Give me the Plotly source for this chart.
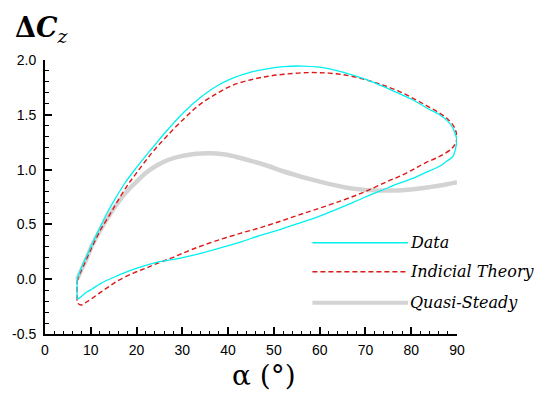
import plotly.graph_objects as go

# Measured loop (pitch-up branch, then pitch-down branch)
data_up_alpha = [7.0, 8.0, 9.2, 10.5, 12.1, 13.5, 15.0, 17.5, 20.0, 23.3, 26.5, 30.5, 34.0,
                 37.8, 41.0, 45.0, 48.5, 52.2, 56.0, 60.0, 65.0, 69.6, 73.2, 77.0, 80.4,
                 83.5, 86.2, 88.0, 89.1, 90.0]
data_up_cz = [0.00, 0.11, 0.22, 0.34, 0.48, 0.60, 0.71, 0.88, 1.02, 1.19, 1.35, 1.53, 1.66,
              1.77, 1.835, 1.89, 1.92, 1.94, 1.945, 1.935, 1.89, 1.83, 1.77, 1.70, 1.635,
              1.56, 1.50, 1.44, 1.38, 1.27]
data_dn_alpha = [90.0, 89.1, 87.5, 86.2, 83.0, 80.4, 77.0, 74.7, 70.0, 65.0, 58.7, 55.0,
                 51.5, 47.0, 42.8, 37.0, 32.0, 28.0, 24.0, 19.3, 15.7, 12.1, 10.3, 9.2,
                 8.0, 7.2, 7.0]
data_dn_cz = [1.27, 1.12, 1.07, 1.03, 0.97, 0.92, 0.87, 0.83, 0.75, 0.66, 0.555, 0.505,
              0.455, 0.40, 0.34, 0.27, 0.215, 0.18, 0.15, 0.09, 0.03, -0.04, -0.09, -0.115,
              -0.155, -0.18, -0.18]

# Indicial theory prediction
ind_up_alpha = [7.0, 7.5, 8.5, 10.0, 12.0, 14.3, 15.7, 17.9, 20.0, 23.3, 26.5, 30.5, 34.0,
                37.8, 41.0, 45.0, 48.5, 52.2, 57.3, 62.0, 66.0, 70.0, 73.2, 77.0, 80.4,
                83.5, 86.2, 88.0, 89.5, 90.0]
ind_up_cz = [-0.02, 0.04, 0.13, 0.27, 0.44, 0.60, 0.70, 0.85, 0.97, 1.15, 1.30, 1.47, 1.60,
             1.70, 1.77, 1.82, 1.85, 1.87, 1.885, 1.88, 1.86, 1.82, 1.78, 1.72, 1.65,
             1.58, 1.515, 1.46, 1.38, 1.30]
ind_dn_alpha = [90.0, 89.7, 88.8, 86.2, 83.0, 80.4, 77.5, 74.7, 70.0, 65.0, 58.7, 55.0,
                51.5, 47.0, 42.8, 37.0, 32.0, 28.0, 24.0, 22.0, 19.3, 15.7, 13.9, 12.1,
                10.3, 9.0, 8.0, 7.2, 7.0]
ind_dn_cz = [1.30, 1.24, 1.19, 1.12, 1.06, 1.00, 0.94, 0.89, 0.80, 0.72, 0.63, 0.58,
             0.53, 0.47, 0.42, 0.345, 0.27, 0.20, 0.135, 0.10, 0.055, -0.02, -0.07, -0.12,
             -0.175, -0.21, -0.235, -0.22, -0.19]

# Quasi-steady prediction
qs_alpha = [7.0, 8.0, 9.0, 10.3, 12.1, 14.3, 16.3, 18.3, 20.0, 22.0, 24.5, 27.0, 30.0,
            33.0, 36.0, 39.0, 41.4, 45.0, 48.6, 52.0, 57.3, 62.0, 66.0, 70.0,
            73.2, 77.0, 80.4, 84.0, 87.0, 90.0]
qs_cz = [0.0, 0.09, 0.18, 0.31, 0.45, 0.60, 0.72, 0.82, 0.89, 0.97, 1.04, 1.09, 1.125,
         1.145, 1.15, 1.14, 1.12, 1.08, 1.035, 0.985, 0.92, 0.87, 0.835, 0.815,
         0.81, 0.81, 0.82, 0.84, 0.86, 0.885]

x_ticks = [0, 10, 20, 30, 40, 50, 60, 70, 80, 90]
y_ticks = [-0.5, 0.0, 0.5, 1.0, 1.5, 2.0]
y_tick_text = ["-0.5", "0.0", "0.5", "1.0", "1.5", "2.0"]

legend_names = ["Data", "Indicial Theory", "Quasi-Steady"]

SERIF = "DejaVu Serif"
SANS = "Arial"

CYAN = "rgb(0,240,240)"
RED = "rgb(220,25,25)"
GREY = "rgb(211,211,211)"

fig = go.Figure()

def add(x, y, color, width, dash="solid", shape="spline"):
    fig.add_trace(go.Scatter(x=x, y=y, mode="lines", showlegend=False, hoverinfo="skip",
                             line=dict(color=color, width=width, dash=dash,
                                       shape=shape, smoothing=1.0)))

add(qs_alpha, qs_cz, GREY, 4.5)

add(ind_up_alpha, ind_up_cz, RED, 1.4, "5px,3px")
add(ind_dn_alpha, ind_dn_cz, RED, 1.4, "5px,3px")
add([ind_dn_alpha[-1], ind_up_alpha[0]], [ind_dn_cz[-1], ind_up_cz[0]], RED, 1.4, "5px,3px", "linear")

add(data_up_alpha, data_up_cz, CYAN, 1.3)
add(data_dn_alpha, data_dn_cz, CYAN, 1.3)
add([data_dn_alpha[-1], data_up_alpha[0]], [data_dn_cz[-1], data_up_cz[0]], CYAN, 1.3, "solid", "linear")

# Hand-placed legend with long sample lines
styles = [(CYAN, 1.3, "solid"), (RED, 1.4, "5px,3px"), (GREY, 4.0, "solid")]
legend_y = [0.333, 0.227, 0.114]
shapes = []
annotations = []
for name, (c, w, d), ly in zip(legend_names, styles, legend_y):
    shapes.append(dict(type="line", xref="paper", yref="paper", x0=0.649, x1=0.881,
                       y0=ly, y1=ly, line=dict(color=c, width=w, dash=d)))
    annotations.append(dict(xref="paper", yref="paper", x=0.882, y=ly, xanchor="left",
                            yanchor="middle", showarrow=False, text=f"<i>{name}</i>",
                            font=dict(family=SERIF, size=16, color="black")))

annotations.append(dict(xref="paper", yref="paper", x=-0.078, y=1.11, xanchor="left",
                        yanchor="middle", showarrow=False,
                        text="<b>Δ<i>C</i></b><sub><i>z</i></sub>",
                        font=dict(family=SERIF, size=27, color="black")))
annotations.append(dict(xref="paper", yref="paper", x=0.531, y=-0.15, xanchor="center",
                        yanchor="middle", showarrow=False, text="α (°)",
                        font=dict(family=SERIF, size=28, color="black")))

fig.update_layout(
    width=541, height=394,
    margin=dict(l=42.5, r=83.5, t=60, b=60),
    paper_bgcolor="white", plot_bgcolor="white",
    font=dict(family=SANS),
    shapes=shapes, annotations=annotations,
    xaxis=dict(range=[0, 90], tickvals=x_ticks, ticks="inside", ticklen=7, tickwidth=1.5,
               tickcolor="black", showline=True, linecolor="black", linewidth=2,
               showgrid=False, zeroline=False, ticklabelstandoff=2,
               tickfont=dict(family=SANS, size=14, color="black"),
               minor=dict(dtick=2, ticks="inside", ticklen=3.5, tickwidth=1.2,
                          tickcolor="black", showgrid=False)),
    yaxis=dict(range=[-0.5, 2.0], tickvals=y_ticks, ticktext=y_tick_text, ticks="inside",
               ticklen=7, tickwidth=1.5, tickcolor="black", showline=True,
               linecolor="black", linewidth=2, showgrid=False, zeroline=False,
               ticklabelstandoff=4,
               tickfont=dict(family=SANS, size=14, color="black"),
               minor=dict(dtick=0.1, ticks="inside", ticklen=3.5, tickwidth=1.2,
                          tickcolor="black", showgrid=False)),
)

fig.write_html("out.html")
